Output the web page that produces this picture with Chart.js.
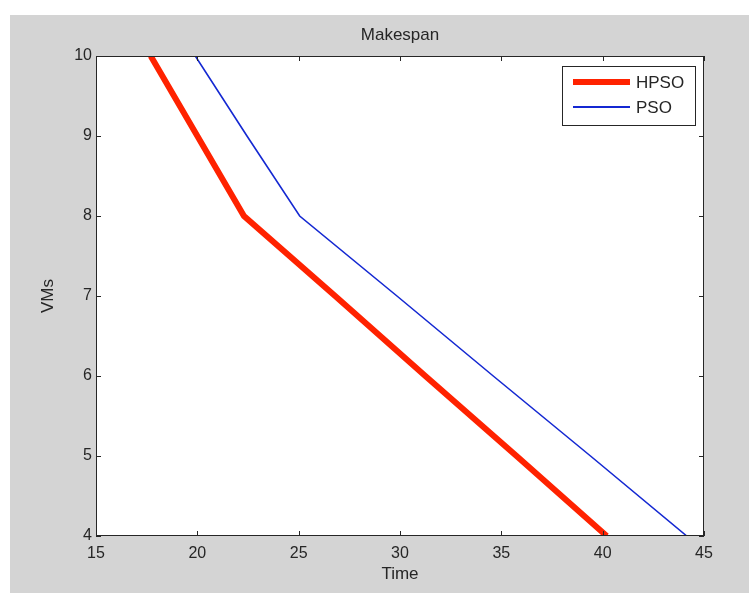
<!DOCTYPE html>
<html>
<head>
  <title>Makespan</title>
  <script src="https://cdn.jsdelivr.net/npm/chart.js"></script>
  <style>
    body { margin: 0; background: #fff; }
  </style>
</head>
<body>
  <canvas id="makespanChart" width="752" height="593"></canvas>

  <script>
    // values
    const vms = [10, 9, 8, 7, 6, 5, 4];
    const hpsoTime = [17.7, 20.0, 22.3, 26.8, 31.25, 35.75, 40.2];
    const psoTime = [19.9, 22.45, 25.05, 29.85, 34.6, 39.4, 44.15];
    const seriesNames = ['HPSO', 'PSO'];
    const chartTitle = 'Makespan';
    const xTicks = [15, 20, 25, 30, 35, 40, 45];
    const yTicks = [4, 5, 6, 7, 8, 9, 10];

    const font = "'Liberation Sans', Arial, sans-serif";
    const textColor = '#262626';
    const red = '#ff2200';
    const blue = '#1428d2';

    const toPoints = (xs) => xs.map((t, i) => ({ x: t, y: vms[i] }));

    // figure background, axes frame, inward ticks, title, legend
    const matlabLook = {
      id: 'matlabLook',
      beforeDraw(chart) {
        const { ctx, chartArea: a } = chart;
        ctx.save();
        ctx.fillStyle = '#ffffff';
        ctx.fillRect(0, 0, chart.width, chart.height);
        ctx.fillStyle = '#d4d4d4';
        ctx.fillRect(10, 15, chart.width - 13, chart.height - 15);
        ctx.fillStyle = '#ffffff';
        ctx.fillRect(a.left, a.top, a.right - a.left, a.bottom - a.top);
        ctx.restore();
      },
      afterDatasetsDraw(chart) {
        const { ctx, chartArea: a, scales } = chart;
        ctx.save();
        ctx.strokeStyle = '#262626';
        ctx.lineWidth = 1;
        ctx.beginPath();
        xTicks.forEach(v => {
          const px = Math.round(scales.x.getPixelForValue(v)) + 0.5;
          ctx.moveTo(px, a.bottom); ctx.lineTo(px, a.bottom - 5);
          ctx.moveTo(px, a.top); ctx.lineTo(px, a.top + 5);
        });
        yTicks.forEach(v => {
          const py = Math.round(scales.y.getPixelForValue(v)) + 0.5;
          ctx.moveTo(a.left, py); ctx.lineTo(a.left + 5, py);
          ctx.moveTo(a.right, py); ctx.lineTo(a.right - 5, py);
        });
        ctx.stroke();
        ctx.strokeRect(a.left + 0.5, a.top + 0.5, a.right - a.left - 1, a.bottom - a.top - 1);

        // title centred over the axes
        ctx.fillStyle = textColor;
        ctx.font = '17px ' + font;
        ctx.textAlign = 'center';
        ctx.textBaseline = 'middle';
        ctx.fillText(chartTitle, (a.left + a.right) / 2, 35);

        // legend box, top right inside the axes
        const bx = 562, by = 66, bw = 133, bh = 59;
        ctx.fillStyle = '#ffffff';
        ctx.fillRect(bx, by, bw, bh);
        ctx.strokeRect(bx + 0.5, by + 0.5, bw, bh);
        const rows = [
          { name: seriesNames[0], color: red, width: 6, y: 82 },
          { name: seriesNames[1], color: blue, width: 2, y: 107 }
        ];
        ctx.textAlign = 'left';
        rows.forEach(r => {
          ctx.strokeStyle = r.color;
          ctx.lineWidth = r.width;
          ctx.beginPath();
          ctx.moveTo(573, r.y); ctx.lineTo(630, r.y);
          ctx.stroke();
          ctx.fillStyle = textColor;
          ctx.fillText(r.name, 636, r.y + 1);
        });
        ctx.restore();
      }
    };

    new Chart(document.getElementById('makespanChart'), {
      type: 'line',
      data: {
        datasets: [
          {
            label: seriesNames[0],
            data: toPoints(hpsoTime),
            borderColor: red,
            borderWidth: 6,
            pointRadius: 0,
            tension: 0
          },
          {
            label: seriesNames[1],
            data: toPoints(psoTime),
            borderColor: blue,
            borderWidth: 1.6,
            pointRadius: 0,
            tension: 0
          }
        ]
      },
      options: {
        responsive: false,
        animation: false,
        layout: { padding: { left: 0, right: 48, top: 56, bottom: 0 } },
        plugins: {
          legend: { display: false },
          tooltip: { enabled: false },
          title: { display: false }
        },
        scales: {
          x: {
            type: 'linear',
            min: 15,
            max: 45,
            afterBuildTicks: (s) => { s.ticks = xTicks.map(v => ({ value: v })); },
            afterFit: (s) => { s.height = 57; },
            grid: { display: false, drawTicks: false },
            border: { display: false },
            ticks: {
              color: textColor,
              padding: 8,
              maxRotation: 0,
              font: { family: font, size: 16 }
            },
            title: {
              display: true,
              text: 'Time',
              color: textColor,
              font: { family: font, size: 17 },
              padding: { top: 0, bottom: 8 }
            }
          },
          y: {
            type: 'linear',
            min: 4,
            max: 10,
            afterBuildTicks: (s) => { s.ticks = yTicks.map(v => ({ value: v })); },
            afterFit: (s) => { s.width = 96; },
            grid: { display: false, drawTicks: false },
            border: { display: false },
            ticks: {
              color: textColor,
              padding: 4,
              font: { family: font, size: 16 }
            },
            title: {
              display: true,
              text: 'VMs',
              color: textColor,
              font: { family: font, size: 17 },
              padding: { top: 38, bottom: 0 }
            }
          }
        }
      },
      plugins: [matlabLook]
    });
  </script>
</body>
</html>
